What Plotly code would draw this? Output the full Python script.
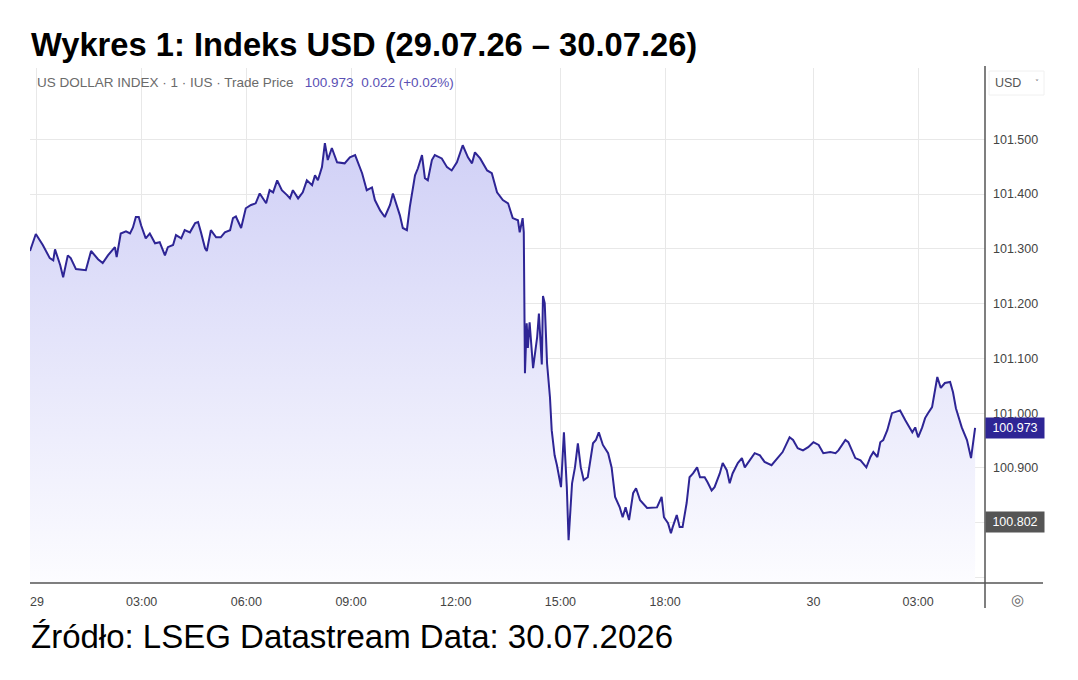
import plotly.graph_objects as go

# ---- data ----
times = [
    "2026-07-28 23:48", "2026-07-28 23:58", "2026-07-29 00:10", "2026-07-29 00:22", "2026-07-29 00:28",
    "2026-07-29 00:31", "2026-07-29 00:40", "2026-07-29 00:45", "2026-07-29 00:53", "2026-07-29 00:58",
    "2026-07-29 01:07", "2026-07-29 01:24", "2026-07-29 01:33", "2026-07-29 01:45", "2026-07-29 01:53",
    "2026-07-29 02:02", "2026-07-29 02:14", "2026-07-29 02:17", "2026-07-29 02:24", "2026-07-29 02:33",
    "2026-07-29 02:40", "2026-07-29 02:45", "2026-07-29 02:50", "2026-07-29 02:55", "2026-07-29 02:59",
    "2026-07-29 03:07", "2026-07-29 03:14", "2026-07-29 03:23", "2026-07-29 03:31", "2026-07-29 03:40",
    "2026-07-29 03:45", "2026-07-29 03:54", "2026-07-29 03:59", "2026-07-29 04:08", "2026-07-29 04:14",
    "2026-07-29 04:23", "2026-07-29 04:32", "2026-07-29 04:37", "2026-07-29 04:42", "2026-07-29 04:49",
    "2026-07-29 04:52", "2026-07-29 04:59", "2026-07-29 05:08", "2026-07-29 05:16", "2026-07-29 05:23",
    "2026-07-29 05:32", "2026-07-29 05:37", "2026-07-29 05:42", "2026-07-29 05:51", "2026-07-29 05:59",
    "2026-07-29 06:08", "2026-07-29 06:16", "2026-07-29 06:23", "2026-07-29 06:28", "2026-07-29 06:34",
    "2026-07-29 06:40", "2026-07-29 06:46", "2026-07-29 06:53", "2026-07-29 07:01", "2026-07-29 07:10",
    "2026-07-29 07:15", "2026-07-29 07:20", "2026-07-29 07:29", "2026-07-29 07:37", "2026-07-29 07:44",
    "2026-07-29 07:53", "2026-07-29 07:58", "2026-07-29 08:03", "2026-07-29 08:10", "2026-07-29 08:15",
    "2026-07-29 08:20", "2026-07-29 08:27", "2026-07-29 08:36", "2026-07-29 08:49", "2026-07-29 08:58",
    "2026-07-29 09:07", "2026-07-29 09:12", "2026-07-29 09:19", "2026-07-29 09:27", "2026-07-29 09:36",
    "2026-07-29 09:41", "2026-07-29 09:50", "2026-07-29 09:58", "2026-07-29 10:07", "2026-07-29 10:12",
    "2026-07-29 10:19", "2026-07-29 10:24", "2026-07-29 10:29", "2026-07-29 10:36", "2026-07-29 10:41",
    "2026-07-29 10:50", "2026-07-29 10:55", "2026-07-29 11:02", "2026-07-29 11:07", "2026-07-29 11:12",
    "2026-07-29 11:19", "2026-07-29 11:24", "2026-07-29 11:36", "2026-07-29 11:45", "2026-07-29 11:53",
    "2026-07-29 12:02", "2026-07-29 12:12", "2026-07-29 12:21", "2026-07-29 12:28", "2026-07-29 12:33",
    "2026-07-29 12:42", "2026-07-29 12:54", "2026-07-29 13:02", "2026-07-29 13:11", "2026-07-29 13:21",
    "2026-07-29 13:30", "2026-07-29 13:38", "2026-07-29 13:47", "2026-07-29 13:50", "2026-07-29 13:55",
    "2026-07-29 13:57", "2026-07-29 13:59", "2026-07-29 14:02", "2026-07-29 14:04", "2026-07-29 14:07",
    "2026-07-29 14:13", "2026-07-29 14:20", "2026-07-29 14:23", "2026-07-29 14:28", "2026-07-29 14:30",
    "2026-07-29 14:33", "2026-07-29 14:37", "2026-07-29 14:42", "2026-07-29 14:45", "2026-07-29 14:50",
    "2026-07-29 14:54", "2026-07-29 15:01", "2026-07-29 15:06", "2026-07-29 15:11", "2026-07-29 15:14",
    "2026-07-29 15:20", "2026-07-29 15:25", "2026-07-29 15:30", "2026-07-29 15:35", "2026-07-29 15:40",
    "2026-07-29 15:47", "2026-07-29 15:56", "2026-07-29 16:01", "2026-07-29 16:06", "2026-07-29 16:13",
    "2026-07-29 16:22", "2026-07-29 16:28", "2026-07-29 16:34", "2026-07-29 16:42", "2026-07-29 16:47",
    "2026-07-29 16:52", "2026-07-29 16:58", "2026-07-29 17:05", "2026-07-29 17:10", "2026-07-29 17:17",
    "2026-07-29 17:29", "2026-07-29 17:46", "2026-07-29 17:54", "2026-07-29 17:58", "2026-07-29 18:05",
    "2026-07-29 18:10", "2026-07-29 18:13", "2026-07-29 18:20", "2026-07-29 18:25", "2026-07-29 18:30",
    "2026-07-29 18:37", "2026-07-29 18:42", "2026-07-29 18:48", "2026-07-29 18:55", "2026-07-29 19:00",
    "2026-07-29 19:08", "2026-07-29 19:13", "2026-07-29 19:20", "2026-07-29 19:25", "2026-07-29 19:34",
    "2026-07-29 19:39", "2026-07-29 19:46", "2026-07-29 19:51", "2026-07-29 19:56", "2026-07-29 20:05",
    "2026-07-29 20:12", "2026-07-29 20:17", "2026-07-29 20:26", "2026-07-29 20:34", "2026-07-29 20:43",
    "2026-07-29 20:51", "2026-07-29 21:03", "2026-07-29 21:14", "2026-07-29 21:22", "2026-07-29 21:34",
    "2026-07-29 21:40", "2026-07-29 21:48", "2026-07-29 21:57", "2026-07-29 23:51", "2026-07-30 00:00",
    "2026-07-30 00:09", "2026-07-30 00:17", "2026-07-30 00:29", "2026-07-30 00:38", "2026-07-30 00:43",
    "2026-07-30 00:55", "2026-07-30 01:00", "2026-07-30 01:12", "2026-07-30 01:21", "2026-07-30 01:31",
    "2026-07-30 01:38", "2026-07-30 01:43", "2026-07-30 01:50", "2026-07-30 01:55", "2026-07-30 02:00",
    "2026-07-30 02:07", "2026-07-30 02:15", "2026-07-30 02:21", "2026-07-30 02:29", "2026-07-30 02:38",
    "2026-07-30 02:43", "2026-07-30 02:50", "2026-07-30 02:55", "2026-07-30 03:00", "2026-07-30 03:07",
    "2026-07-30 03:12", "2026-07-30 03:17", "2026-07-30 03:24", "2026-07-30 03:33", "2026-07-30 03:39",
    "2026-07-30 03:46", "2026-07-30 03:55", "2026-07-30 04:00", "2026-07-30 04:05", "2026-07-30 04:15",
    "2026-07-30 04:24", "2026-07-30 04:31", "2026-07-30 04:34", "2026-07-30 04:38",
]

prices = [
    101.296, 101.327, 101.307, 101.283, 101.279, 101.299, 101.270, 101.248, 101.288, 101.283,
    101.263, 101.261, 101.296, 101.281, 101.274, 101.288, 101.303, 101.285, 101.328, 101.332,
    101.328, 101.339, 101.358, 101.358, 101.343, 101.319, 101.328, 101.310, 101.312, 101.288,
    101.303, 101.307, 101.325, 101.319, 101.334, 101.330, 101.347, 101.349, 101.330, 101.301,
    101.296, 101.334, 101.321, 101.321, 101.330, 101.334, 101.356, 101.359, 101.338, 101.374,
    101.380, 101.383, 101.401, 101.392, 101.383, 101.407, 101.403, 101.425, 101.407, 101.398,
    101.392, 101.407, 101.392, 101.403, 101.425, 101.416, 101.434, 101.425, 101.449, 101.493,
    101.462, 101.484, 101.458, 101.456, 101.467, 101.471, 101.458, 101.438, 101.407, 101.412,
    101.389, 101.370, 101.358, 101.380, 101.401, 101.380, 101.361, 101.338, 101.334, 101.376,
    101.434, 101.447, 101.471, 101.429, 101.425, 101.462, 101.471, 101.465, 101.449, 101.443,
    101.458, 101.489, 101.467, 101.456, 101.476, 101.465, 101.443, 101.438, 101.403, 101.389,
    101.383, 101.356, 101.352, 101.330, 101.356, 101.330, 101.073, 101.164, 101.119, 101.166,
    101.082, 101.139, 101.182, 101.089, 101.214, 101.201, 101.091, 101.029, 100.969, 100.923,
    100.905, 100.865, 100.965, 100.865, 100.768, 100.872, 100.901, 100.945, 100.901, 100.878,
    100.883, 100.945, 100.951, 100.965, 100.942, 100.927, 100.901, 100.847, 100.828, 100.810,
    100.828, 100.805, 100.854, 100.863, 100.841, 100.827, 100.828, 100.847, 100.810, 100.799,
    100.781, 100.792, 100.814, 100.792, 100.792, 100.836, 100.883, 100.890, 100.901, 100.883,
    100.883, 100.874, 100.859, 100.865, 100.890, 100.909, 100.896, 100.872, 100.890, 100.909,
    100.918, 100.901, 100.914, 100.927, 100.923, 100.911, 100.905, 100.920, 100.929, 100.956,
    100.951, 100.936, 100.932, 100.938, 100.947, 100.942, 100.927, 100.929, 100.927, 100.932,
    100.951, 100.947, 100.918, 100.914, 100.901, 100.920, 100.929, 100.920, 100.947, 100.951,
    100.969, 101.000, 101.002, 101.005, 100.987, 100.978, 100.965, 100.974, 100.956, 100.974,
    100.991, 101.000, 101.011, 101.066, 101.046, 101.055, 101.057, 101.038, 101.009, 100.974,
    100.951, 100.918, 100.938, 100.973,
]

x_tick_vals = ["2026-07-29 00:00", "2026-07-29 03:00", "2026-07-29 06:00", "2026-07-29 09:00",
               "2026-07-29 12:00", "2026-07-29 15:00", "2026-07-29 18:00", "2026-07-30 00:00",
               "2026-07-30 03:00"]
x_tick_text = ["29", "03:00", "06:00", "09:00", "12:00", "15:00", "18:00", "30", "03:00"]

# 100.800 label is hidden behind the 100.802 price box in the reference
y_tick_vals = [100.7, 100.8, 100.9, 101.0, 101.1, 101.2, 101.3, 101.4, 101.5]
y_tick_text = ["", "", "100.900", "101.000", "101.100", "101.200", "101.300", "101.400", "101.500"]

last_price = 100.973
low_marker = 100.802

title_text = "<b>Wykres 1: Indeks USD (29.07.26 – 30.07.26)</b>"
source_text = "Źródło: LSEG Datastream Data: 30.07.2026"
header_text = ("US DOLLAR INDEX · 1 · IUS · Trade Price&nbsp;&nbsp;&nbsp;"
               "<span style='color:#5a50b4'>100.973&nbsp;&nbsp;0.022 (+0.02%)</span>")

LINE = "#2e2595"
GRID = "#e8e8e8"
AXIS = "#555555"

# plot area in pixels
W, H = 1078, 680
L, R, T, B = 30, 985, 68, 583

fig = go.Figure()
fig.add_trace(go.Scatter(
    x=times, y=prices, mode="lines",
    line=dict(color=LINE, width=2),
    fill="tozeroy",
    fillgradient=dict(type="vertical", start=100.69, stop=101.5,
                      colorscale=[[0, "rgb(252,252,255)"], [1, "rgb(208,208,246)"]]),
    hoverinfo="x+y", showlegend=False,
))

def py(ypx):
    return (B - ypx) / (B - T)

def px(xpx):
    return (xpx - L) / (R - L)

shapes = [
    dict(type="line", xref="paper", yref="paper", x0=0, x1=px(1043), y0=0, y1=0,
         line=dict(color=AXIS, width=1.5)),
    dict(type="line", xref="paper", yref="paper", x0=1, x1=1, y0=py(608), y1=py(66),
         line=dict(color=AXIS, width=1.5)),
    dict(type="rect", xref="paper", yref="paper", x0=px(989), x1=px(1044), y0=py(95), y1=py(71),
         line=dict(color="#f0f0f0", width=1), fillcolor="white"),
]

annotations = [
    dict(text=title_text, xref="paper", yref="paper", x=px(29), y=py(45), xanchor="left",
         yanchor="middle", showarrow=False,
         font=dict(family="Liberation Sans, Arial", size=32.7, color="#000000")),
    dict(text=source_text, xref="paper", yref="paper", x=px(29), y=py(636), xanchor="left",
         yanchor="middle", showarrow=False,
         font=dict(family="Liberation Sans, Arial", size=33, color="#000000")),
    dict(text=header_text, xref="paper", yref="paper", x=px(35), y=py(82), xanchor="left",
         yanchor="middle", showarrow=False,
         font=dict(family="Liberation Sans, Arial", size=13.5, color="#6a6a6a")),
    dict(text="USD", xref="paper", yref="paper", x=px(993), y=py(83), xanchor="left",
         yanchor="middle", showarrow=False,
         font=dict(family="Liberation Sans, Arial", size=12.5, color="#555555")),
    dict(text="˅", xref="paper", yref="paper", x=px(1037), y=py(84), xanchor="center",
         yanchor="middle", showarrow=False,
         font=dict(family="DejaVu Sans", size=8, color="#777777")),
    dict(text=f"{last_price:.3f}", xref="paper", yref="y", x=1.0, y=last_price, xanchor="left",
         yanchor="middle", showarrow=False, bgcolor="#2e2595", borderpad=3, width=52, height=14,
         font=dict(family="Liberation Sans, Arial", size=12.5, color="#ffffff")),
    dict(text=f"{low_marker:.3f}", xref="paper", yref="y", x=1.0, y=low_marker, xanchor="left",
         yanchor="middle", showarrow=False, bgcolor="#555555", borderpad=3, width=52, height=14,
         font=dict(family="Liberation Sans, Arial", size=12.5, color="#ffffff")),
    dict(text="◎", xref="paper", yref="paper", x=px(1018), y=py(600), xanchor="center",
         yanchor="middle", showarrow=False,
         font=dict(family="DejaVu Sans", size=15, color="#666666")),
]

fig.update_layout(
    width=W, height=H,
    margin=dict(l=L, r=W - R, t=T, b=H - B, pad=0),
    paper_bgcolor="white", plot_bgcolor="white",
    shapes=shapes, annotations=annotations,
    xaxis=dict(
        type="date",
        range=["2026-07-28 23:48", "2026-07-30 04:55"],
        rangebreaks=[dict(bounds=["2026-07-29 22:00", "2026-07-29 23:45"])],
        tickvals=x_tick_vals, ticktext=x_tick_text,
        showgrid=True, gridcolor=GRID, gridwidth=1,
        showline=False, zeroline=False, ticks="",
        ticklabelstandoff=9,
        tickfont=dict(family="Liberation Sans, Arial", size=12.5, color="#444444"),
    ),
    yaxis=dict(
        side="right",
        range=[100.69, 101.63],
        tickvals=y_tick_vals, ticktext=y_tick_text,
        showgrid=True, gridcolor=GRID, gridwidth=1,
        showline=False, zeroline=False, ticks="",
        ticklabelstandoff=7,
        tickfont=dict(family="Liberation Sans, Arial", size=12.5, color="#444444"),
    ),
)

fig.write_html("out.html")
